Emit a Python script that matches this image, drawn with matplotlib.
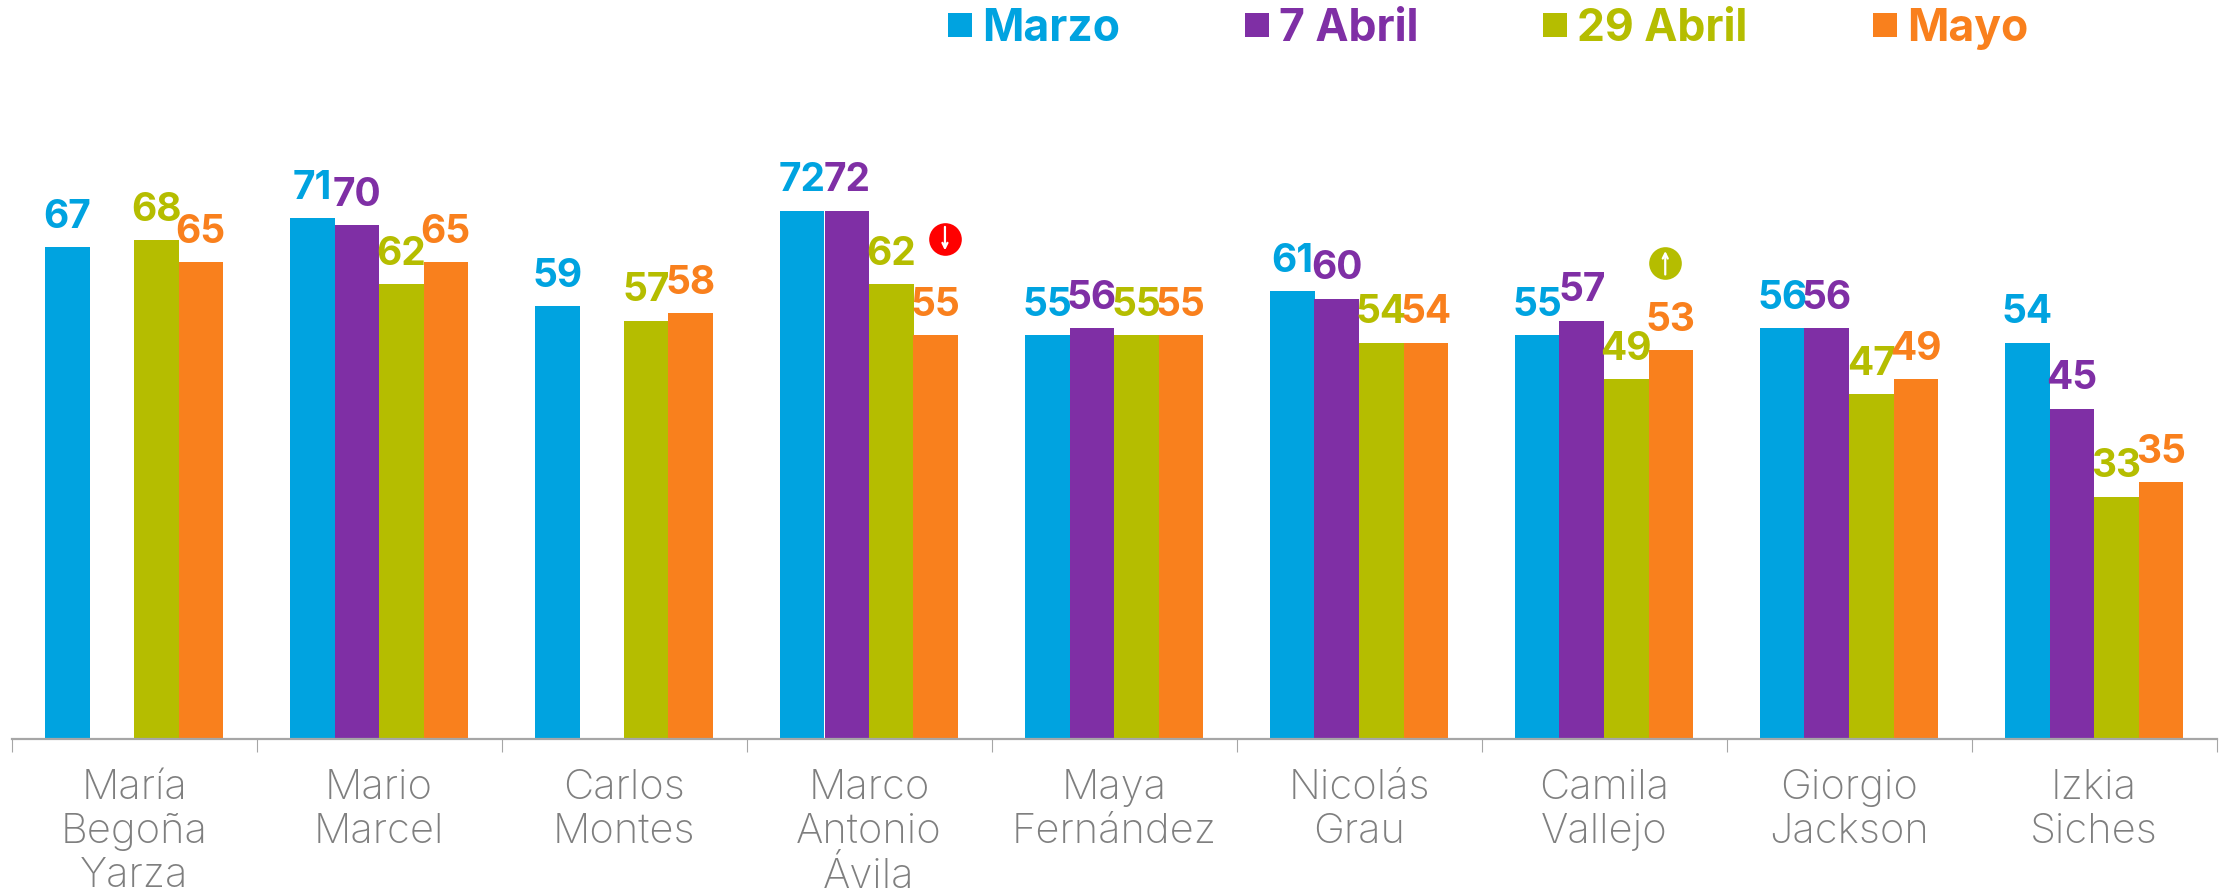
import matplotlib
matplotlib.use("Agg")
import matplotlib.pyplot as plt
from matplotlib.lines import Line2D
import numpy as np

names = ["María\nBegoña\nYarza", "Mario\nMarcel", "Carlos\nMontes", "Marco\nAntonio\nÁvila",
         "Maya\nFernández", "Nicolás\nGrau", "Camila\nVallejo", "Giorgio\nJackson", "Izkia\nSiches"]
marzo = [67, 71, 59, 72, 55, 61, 55, 56, 54]
abril_7 = [None, 70, None, 72, 56, 60, 57, 56, 45]
abril_29 = [68, 62, 57, 62, 55, 54, 49, 47, 33]
mayo = [65, 65, 58, 55, 55, 54, 53, 49, 35]

series_names = ["Marzo", "7 Abril", "29 Abril", "Mayo"]
colors = ["#00A3E0", "#7F2FA5", "#B5BD00", "#F9801D"]

# change markers: group position, height, colour, direction
change_x = [3.31, 6.25]
change_y = [68.2, 64.9]
change_colors = ["#FF0000", "#B5BD00"]
change_dir = [-1, 1]

bar_w = 44.5 / 245


def draw_bars(ax):
    x = np.arange(len(names))
    for i, values in enumerate([marzo, abril_7, abril_29, mayo]):
        offs = x + (i - 1.5) * bar_w
        for xx, v in zip(offs, values):
            if v is None:
                continue
            ax.bar(xx, v, width=bar_w, color=colors[i], linewidth=0)
            ax.annotate(str(v), (xx, v), xytext=(0, 14), textcoords="offset points",
                        ha="center", va="baseline", color=colors[i],
                        fontsize=28, fontweight="bold", family="Inter")


def draw_changes(ax):
    for xx, yy, c, d in zip(change_x, change_y, change_colors, change_dir):
        ax.plot(xx, yy, "o", color=c, markersize=23.5, markeredgewidth=0, zorder=5)
        ax.annotate("", xy=(xx, yy + d * 1.6), xytext=(xx, yy - d * 1.6), zorder=6,
                    arrowprops=dict(arrowstyle="->", color="white", lw=1.6, mutation_scale=9,
                                    shrinkA=0, shrinkB=0))


fig = plt.figure(figsize=(22.21, 8.93), dpi=100)
ax = fig.add_axes([11.5 / 2221, 154.5 / 893, 2205 / 2221, 738.5 / 893])

draw_bars(ax)
draw_changes(ax)

ax.set_xlim(-0.5, 8.5)
ax.set_ylim(0, 738.5 / 7.33)
ax.set_yticks([])
for s in ["top", "left", "right"]:
    ax.spines[s].set_visible(False)
ax.spines["bottom"].set_color("#A6A6A6")
ax.spines["bottom"].set_linewidth(1.6)

ax.set_xticks(np.arange(len(names)))
ax.set_xticklabels(names, fontsize=30, color="#7F7F7F", family="Inter", fontweight="light",
                   linespacing=1.2)
ax.tick_params(axis="x", which="major", length=0, pad=22)
ax.set_xticks(np.arange(len(names) + 1) - 0.5, minor=True)
ax.tick_params(axis="x", which="minor", length=9, width=0.8, color="#A6A6A6")

handles = [Line2D([], [], linestyle="none", marker="s", markersize=17, markeredgewidth=0, color=c)
           for c in colors]
leg = fig.legend(handles, series_names, ncols=4, loc="upper left", bbox_to_anchor=(0.404, 1.036),
                 frameon=False, columnspacing=2.58, handletextpad=0.0, handlelength=1.0,
                 prop={"family": "Inter", "weight": "bold", "size": 32})
for t, c in zip(leg.get_texts(), colors):
    t.set_color(c)

fig.savefig("out.png", dpi=100)
